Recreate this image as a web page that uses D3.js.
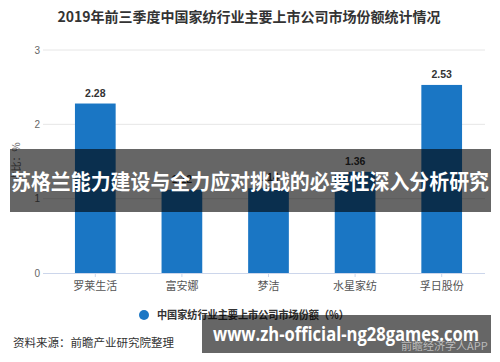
<!DOCTYPE html>
<html>
<head>
<meta charset="utf-8">
<script src="https://cdn.jsdelivr.net/npm/d3@7"></script>
<style>
  html, body { margin: 0; padding: 0; background: #fff; }
  svg { display: block; font-family: "Noto Sans CJK SC", "Noto Sans", sans-serif; }
</style>
</head>
<body>
<svg id="chart" width="500" height="362"></svg>
<script>
// Market share of major listed home-textile companies, first three quarters of 2019
const companies = ["罗莱生活", "富安娜", "梦洁", "水星家纺", "孚日股份"];
const shares = [2.28, 1.12, 1.14, 1.36, 2.53];
const yTicks = [0, 1, 2, 3];

const titleText = "2019年前三季度中国家纺行业主要上市公司市场份额统计情况";
const legendText = "中国家纺行业主要上市公司市场份额（%）";
const yTitle = "占比：%";
const sourceText = "资料来源：前瞻产业研究院整理";
const bannerText = "苏格兰能力建设与全力应对挑战的必要性深入分析研究";
const urlText = "www.zh-official-ng28games.com";
const appText = "前瞻经济学人APP";

const svg = d3.select("#chart");
const barColor = "#1a76c4";

const plot = { left: 52, right: 485, top: 50, bottom: 273 };

const x = d3.scaleBand().domain(companies).range([plot.left, plot.right]).paddingInner(0.53).paddingOuter(0.265);
const y = d3.scaleLinear().domain([0, 3]).range([plot.bottom, plot.top]);

// Title
svg.append("text")
  .attr("x", 249).attr("y", 22)
  .attr("text-anchor", "middle")
  .attr("font-size", 14).attr("font-weight", "bold").attr("fill", "#333")
  .text(titleText);

// Grid lines
svg.append("g").selectAll("line")
  .data(yTicks.filter(d => d > 0))
  .join("line")
  .attr("x1", 43).attr("x2", plot.right)
  .attr("y1", d => y(d)).attr("y2", d => y(d))
  .attr("stroke", "#e6e6e6").attr("stroke-width", 1);

// Y axis labels
const yAxis = svg.append("g")
  .attr("transform", `translate(40,0)`)
  .call(d3.axisLeft(y).tickValues(yTicks).tickSize(0).tickPadding(0).tickFormat(d3.format("d")));
yAxis.select(".domain").remove();
yAxis.selectAll("text").attr("font-size", 10).attr("fill", "#666")
  .attr("font-family", "'Liberation Sans', Arial, sans-serif");

// Y axis title
svg.append("text")
  .attr("transform", `translate(20,${162}) rotate(-90)`)
  .attr("text-anchor", "middle")
  .attr("font-size", 10).attr("fill", "#666")
  .text(yTitle);

// X axis
const xAxis = svg.append("g")
  .attr("transform", `translate(0,${plot.bottom})`)
  .call(d3.axisBottom(x).tickSize(4).tickPadding(5));
xAxis.select(".domain").attr("stroke", "#ccd6eb").attr("d", `M43,0.5H${plot.right}`);
xAxis.selectAll(".tick line").attr("stroke", "#ccd6eb");
xAxis.selectAll("text").attr("font-size", 11).attr("fill", "#555")
  .attr("font-family", "'Noto Sans CJK SC', sans-serif");

// Bars
svg.append("g").selectAll("rect")
  .data(companies)
  .join("rect")
  .attr("x", d => x(d))
  .attr("width", x.bandwidth())
  .attr("y", (d, i) => y(shares[i]))
  .attr("height", (d, i) => y(0) - y(shares[i]))
  .attr("fill", barColor);

// Value labels
svg.append("g").selectAll("text")
  .data(companies)
  .join("text")
  .attr("x", d => x(d) + x.bandwidth() / 2)
  .attr("y", (d, i) => y(shares[i]) - 7)
  .attr("text-anchor", "middle")
  .attr("font-size", 10.5).attr("font-weight", "bold").attr("fill", "#333")
  .attr("font-family", "'Liberation Sans', Arial, sans-serif")
  .text((d, i) => shares[i].toFixed(2));

// Legend
svg.append("circle").attr("cx", 144).attr("cy", 315).attr("r", 5).attr("fill", barColor);
svg.append("text")
  .attr("x", 157).attr("y", 319)
  .attr("font-size", 11).attr("font-weight", "bold").attr("fill", "#333")
  .attr("textLength", 192).attr("lengthAdjust", "spacingAndGlyphs")
  .text(legendText);

// Source note
svg.append("text")
  .attr("x", 13).attr("y", 347)
  .attr("font-size", 11.5).attr("fill", "#333")
  .text(sourceText);

// Headline banner across the middle
svg.append("rect")
  .attr("x", 10).attr("y", 149).attr("width", 481).attr("height", 63)
  .attr("fill", "#000").attr("fill-opacity", 0.6);
svg.append("text")
  .attr("x", 250).attr("y", 189)
  .attr("text-anchor", "middle")
  .attr("font-size", 21).attr("font-weight", "bold").attr("fill", "#fff")
  .attr("textLength", 478).attr("lengthAdjust", "spacingAndGlyphs")
  .text(bannerText);

// Link banner at the bottom
svg.append("rect")
  .attr("x", 202).attr("y", 315).attr("width", 289).attr("height", 38)
  .attr("fill", "#000").attr("fill-opacity", 0.6);
svg.append("text")
  .attr("x", 401).attr("y", 350)
  .attr("font-size", 11).attr("fill", "#bbb")
  .text(appText);
svg.append("text")
  .attr("x", 213).attr("y", 341)
  .attr("font-size", 19).attr("font-weight", "bold").attr("fill", "#fff")
  .attr("font-family", "'Open Sans', 'DejaVu Sans', sans-serif")
  .attr("textLength", 266).attr("lengthAdjust", "spacingAndGlyphs")
  .text(urlText);
</script>
</body>
</html>
